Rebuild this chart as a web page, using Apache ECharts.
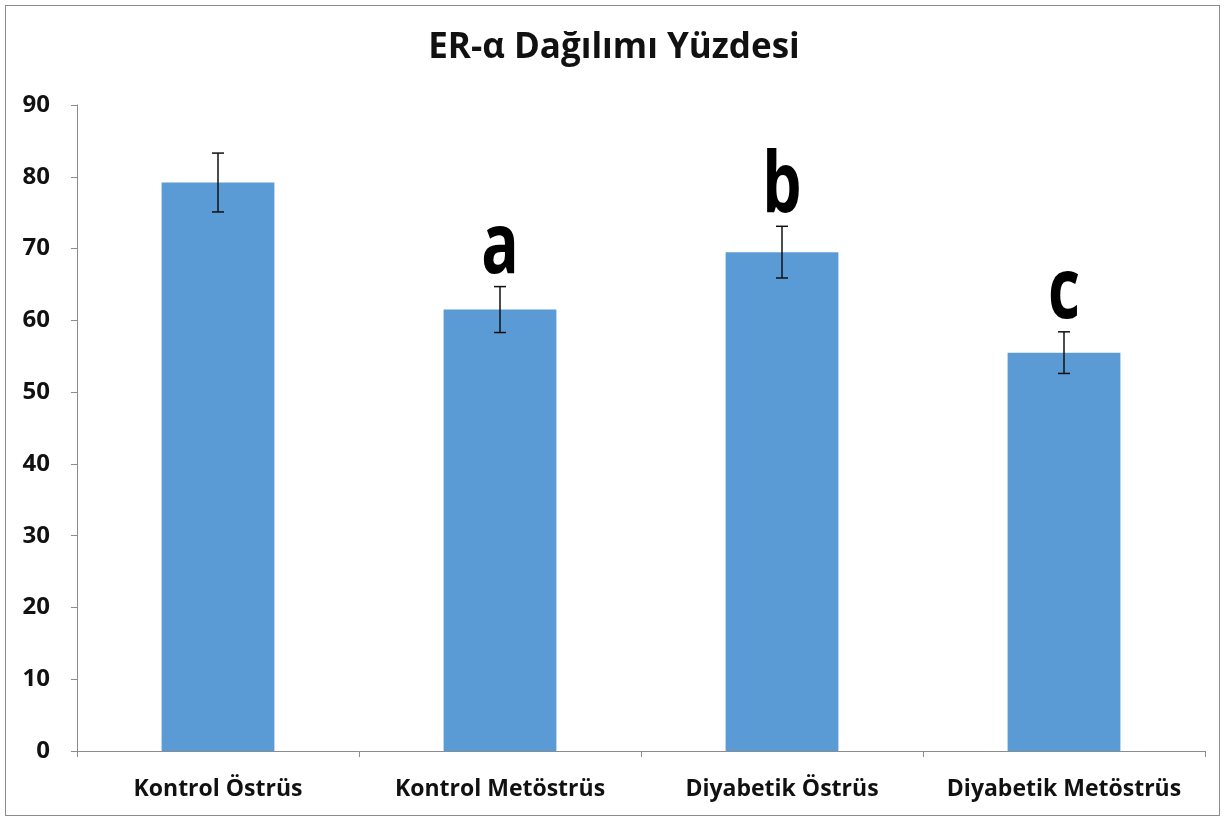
<!DOCTYPE html>
<html><head><meta charset="utf-8">
<script src="https://cdn.jsdelivr.net/npm/echarts@6/dist/echarts.min.js"></script>
<style>html,body{margin:0;padding:0;background:#fff}#c{width:1228px;height:823px}
#frame{position:absolute;left:5px;top:5px;width:1215px;height:811px;border:1.5px solid #8c8c8c;box-sizing:border-box;pointer-events:none}</style>
</head><body><div id="c"></div><div id="frame"></div>
<script>
const categories = ['Kontrol Östrüs','Kontrol Metöstrüs','Diyabetik Östrüs','Diyabetik Metöstrüs'];
const means = [79.2, 61.5, 69.5, 55.5];
const errors = [4.1, 3.2, 3.6, 2.9];
const letters = ['', 'a', 'b', 'c'];
const yTicks = [0,10,20,30,40,50,60,70,80,90];

const chart = echarts.init(document.getElementById('c'));
const errData = categories.map((c,i)=>[i, means[i]-errors[i], means[i]+errors[i]]);
const letterData = categories.map((c,i)=>[i, means[i]+errors[i], i]);
chart.setOption({
  animation:false,
  title:{text:'ER-α Dağılımı Yüzdesi', left:'center', top:26,
    textStyle:{fontFamily:'Open Sans', fontWeight:'bold', fontSize:35, color:'#111'}},
  grid:{left:77, right:23, top:105, bottom:72},
  xAxis:{type:'category', data:categories,
    axisLine:{lineStyle:{color:'#8c8c8c', width:1}},
    axisTick:{show:true, alignWithLabel:false, length:6, lineStyle:{color:'#8c8c8c'}},
    axisLabel:{interval:0, margin:27, fontFamily:'Open Sans', fontWeight:'bold', fontSize:23, color:'#111'}},
  yAxis:{type:'value', min:0, max:90, interval:10,
    axisLine:{show:true, lineStyle:{color:'#8c8c8c', width:1}},
    axisTick:{show:true, length:6, lineStyle:{color:'#8c8c8c'}},
    splitLine:{show:false},
    axisLabel:{margin:27, fontFamily:'Open Sans', fontWeight:'bold', fontSize:24, color:'#111',
      formatter:v=>yTicks.includes(v)?String(v):''}},
  series:[
    {type:'bar', data:means, barWidth:'40%', itemStyle:{color:'#5B9BD5'}},
    {type:'custom', data:errData, z:5,
     renderItem:(params, api)=>{
       const x = api.value(0);
       const lo = api.coord([x, api.value(1)]);
       const hi = api.coord([x, api.value(2)]);
       const hw = 6;
       const st = {stroke:'#111', lineWidth:1.5};
       return {type:'group', children:[
         {type:'line', shape:{x1:lo[0], y1:lo[1], x2:hi[0], y2:hi[1]}, style:st},
         {type:'line', shape:{x1:lo[0]-hw, y1:lo[1], x2:lo[0]+hw, y2:lo[1]}, style:st},
         {type:'line', shape:{x1:hi[0]-hw, y1:hi[1], x2:hi[0]+hw, y2:hi[1]}, style:st}
       ]};
     }},
    {type:'custom', data:letterData, z:6,
     renderItem:(params, api)=>{
       const p = api.coord([api.value(0), api.value(1)]);
       const t = letters[api.value(2)];
       return {type:'text', x:p[0], y:p[1]+4, scaleX:0.74,
         style:{text:t, x:0, y:0, align:'center', verticalAlign:'bottom',
           font:'bold 84px "Open Sans"', fill:'#000'}};
     }}
  ]
});
</script></body></html>
